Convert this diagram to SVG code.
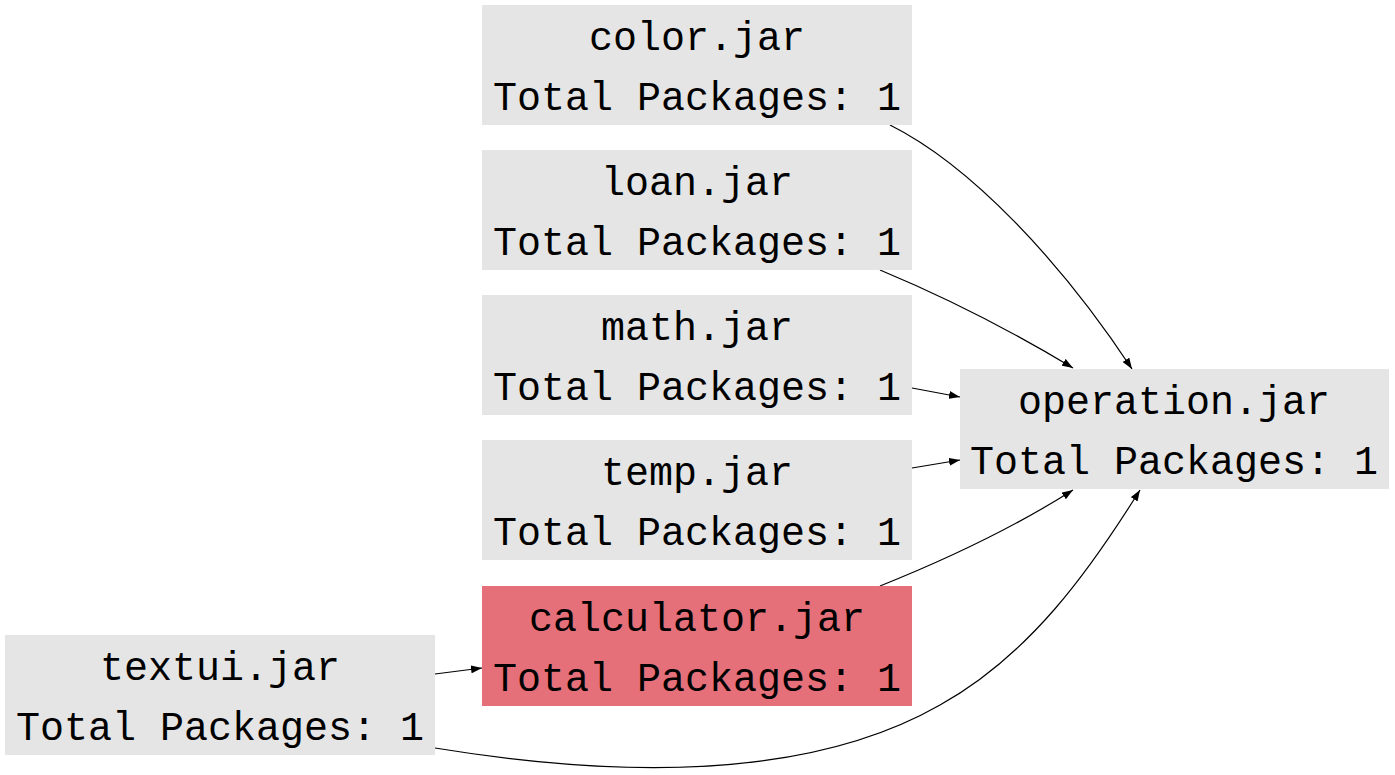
<svg xmlns="http://www.w3.org/2000/svg" width="1395" height="775" viewBox="0 0 1395 775">
<style>
.box{fill:#e5e5e5}
.hl{fill:#e5707a}
text{font-family:"Liberation Mono","Courier New",monospace;font-size:40px;fill:#000;text-anchor:middle}
.e{fill:none;stroke:#000;stroke-width:1.2}
</style>
<defs>
<marker id="a" viewBox="0 0 11 8" refX="11" refY="4" markerWidth="11" markerHeight="8" markerUnits="userSpaceOnUse" orient="auto">
<path d="M0,0L11,4L0,8z" fill="#000"/>
</marker>
</defs>
<rect width="1395" height="775" fill="#fff"/>
<g id="connectors">
<path class="e" marker-end="url(#a)" d="M890,125 C970,165 1060,260 1132,369"/>
<path class="e" marker-end="url(#a)" d="M880,270 C940,295 1010,330 1073,368"/>
<path class="e" marker-end="url(#a)" d="M912,388 L960,397"/>
<path class="e" marker-end="url(#a)" d="M912,468 L960,460"/>
<path class="e" marker-end="url(#a)" d="M880,586 C940,562 1010,530 1073,490"/>
<path class="e" marker-end="url(#a)" d="M435,674 L482,668"/>
<path class="e" marker-end="url(#a)" d="M435,748 C600,775 800,785 940,705 C1030,655 1090,570 1140,490"/>
</g>
<g id="color"><rect class="box" x="482" y="5" width="430" height="120"/><text x="697" y="50">color.jar</text><text x="697" y="110">Total Packages: 1</text></g>
<g id="loan"><rect class="box" x="482" y="150" width="430" height="120"/><text x="697" y="195">loan.jar</text><text x="697" y="255">Total Packages: 1</text></g>
<g id="math"><rect class="box" x="482" y="295" width="430" height="120"/><text x="697" y="340">math.jar</text><text x="697" y="400">Total Packages: 1</text></g>
<g id="temp"><rect class="box" x="482" y="440" width="430" height="120"/><text x="697" y="485">temp.jar</text><text x="697" y="545">Total Packages: 1</text></g>
<g id="calculator"><rect class="hl" x="482" y="586" width="430" height="120"/><text x="697" y="631">calculator.jar</text><text x="697" y="691">Total Packages: 1</text></g>
<g id="textui"><rect class="box" x="5" y="635" width="430" height="120"/><text x="220" y="680">textui.jar</text><text x="220" y="740">Total Packages: 1</text></g>
<g id="operation"><rect class="box" x="960" y="369" width="429" height="120"/><text x="1174" y="414">operation.jar</text><text x="1174" y="474">Total Packages: 1</text></g>
</svg>
